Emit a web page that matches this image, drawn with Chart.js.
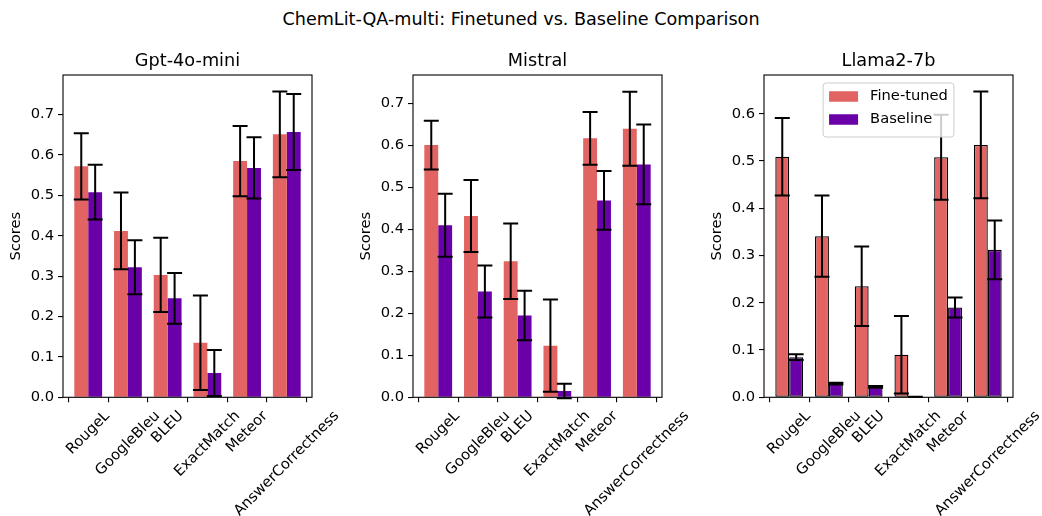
<!DOCTYPE html>
<html>
<head>
<meta charset="utf-8">
<script src="https://cdn.jsdelivr.net/npm/chart.js@4.4.0/dist/chart.umd.min.js"></script>
<style>
  body { margin: 0; background: #fff; }
  #wrap { position: relative; width: 1042px; height: 516px; overflow: hidden; }
  #suptitle { position: absolute; top: 9px; left: 0; width: 1042px; text-align: center;
    font: 17.6px "DejaVu Sans", sans-serif; line-height: 20px; color: #000; }
  canvas { position: absolute; top: 0; }
</style>
</head>
<body>
<div id="wrap">
  <div id="suptitle">ChemLit-QA-multi: Finetuned vs. Baseline Comparison</div>
  <canvas id="c1" width="340" height="516" style="left:0px"></canvas>
  <canvas id="c2" width="340" height="516" style="left:350px"></canvas>
  <canvas id="c3" width="340" height="516" style="left:701px"></canvas>
</div>
<script>
// metrics on the x axis
const categories = ['RougeL', 'GoogleBleu', 'BLEU', 'ExactMatch', 'Meteor', 'AnswerCorrectness'];
const seriesNames = ['Fine-tuned', 'Baseline'];

// Gpt-4o-mini
const gptFinetuned = [0.572, 0.412, 0.303, 0.135, 0.585, 0.651];
const gptFinetunedErr = [0.082, 0.095, 0.092, 0.117, 0.087, 0.106];
const gptBaseline = [0.508, 0.322, 0.245, 0.060, 0.568, 0.657];
const gptBaselineErr = [0.068, 0.067, 0.063, 0.057, 0.076, 0.094];

// Mistral
const mistralFinetuned = [0.601, 0.432, 0.324, 0.123, 0.617, 0.640];
const mistralFinetunedErr = [0.058, 0.086, 0.090, 0.110, 0.063, 0.088];
const mistralBaseline = [0.410, 0.252, 0.195, 0.015, 0.469, 0.555];
const mistralBaselineErr = [0.075, 0.062, 0.059, 0.017, 0.070, 0.095];

// Llama2-7b
const llamaFinetuned = [0.509, 0.341, 0.235, 0.090, 0.508, 0.534];
const llamaFinetunedErr = [0.082, 0.086, 0.084, 0.082, 0.090, 0.113];
const llamaBaseline = [0.085, 0.029, 0.022, 0.001, 0.190, 0.312];
const llamaBaselineErr = [0.006, 0.002, 0.002, 0.000, 0.021, 0.062];

// y tick labels per panel
const gptTicks = [0, 0.1, 0.2, 0.3, 0.4, 0.5, 0.6, 0.7];
const mistralTicks = [0, 0.1, 0.2, 0.3, 0.4, 0.5, 0.6, 0.7];
const llamaTicks = [0, 0.1, 0.2, 0.3, 0.4, 0.5, 0.6];

const FT_COLOR = '#E16462';
const BL_COLOR = '#6A00A8';
const FONT = '"DejaVu Sans", sans-serif';
const FS = 14.7;
const TITLE_FS = 17.7;

// error bars + spines + title + rotated x labels + optional legend
const extras = {
  id: 'extras',
  afterDatasetsDraw(chart) {
    const { ctx, chartArea: a } = chart;
    const ys = chart.scales.y;
    ctx.save();
    ctx.strokeStyle = '#000';
    ctx.lineWidth = 2;
    chart.data.datasets.forEach((ds, di) => {
      const meta = chart.getDatasetMeta(di);
      meta.data.forEach((bar, i) => {
        const v = ds.data[i].y, e = ds.errors[i];
        const yTop = ys.getPixelForValue(v + e);
        const yBot = ys.getPixelForValue(v - e);
        ctx.beginPath();
        ctx.moveTo(bar.x, yTop); ctx.lineTo(bar.x, yBot);
        ctx.moveTo(bar.x - 7.5, yTop); ctx.lineTo(bar.x + 7.5, yTop);
        ctx.moveTo(bar.x - 7.5, yBot); ctx.lineTo(bar.x + 7.5, yBot);
        ctx.stroke();
      });
    });
    // spines
    ctx.lineWidth = 1.1;
    ctx.strokeRect(a.left, a.top, a.right - a.left, a.bottom - a.top);
    ctx.restore();
  },
  afterDraw(chart) {
    const { ctx, chartArea: a } = chart;
    const xs = chart.scales.x;
    const opts = chart.options.plugins.extras;
    ctx.save();
    ctx.fillStyle = '#000';
    // panel title
    ctx.font = TITLE_FS + 'px ' + FONT;
    ctx.textAlign = 'center';
    ctx.textBaseline = 'alphabetic';
    ctx.fillText(opts.title, (a.left + a.right) / 2, a.top - 8.8);
    // rotated category labels
    ctx.font = FS + 'px ' + FONT;
    ctx.textBaseline = 'middle';
    const H = FS * 1.17;
    categories.forEach((lab, i) => {
      const x = xs.getPixelForValue(i);
      const L = ctx.measureText(lab).width;
      const bh = (L + H) * Math.SQRT1_2;
      ctx.save();
      ctx.translate(x, a.bottom + 10.3 + bh / 2);
      ctx.rotate(-Math.PI / 4);
      ctx.fillText(lab, 0, 0);
      ctx.restore();
    });
    if (opts.legend) {
      const maxW = Math.max(...chart.data.datasets.map(d => ctx.measureText(d.label).width));
      const w = 6 + 29 + 12 + maxW + 6;
      const left = (a.left + a.right) / 2 - w / 2;
      const top = a.top + 8;
      const h = 54;
      ctx.beginPath();
      ctx.roundRect(left, top, w, h, 3);
      ctx.fillStyle = 'rgba(255,255,255,0.8)';
      ctx.fill();
      ctx.strokeStyle = '#cccccc';
      ctx.lineWidth = 1;
      ctx.stroke();
      chart.data.datasets.forEach((d, k) => {
        const cy = top + 13.5 + k * 23;
        ctx.fillStyle = d.backgroundColor;
        ctx.fillRect(left + 6, cy - 5.25, 29, 10.5);
        ctx.fillStyle = '#000';
        ctx.textAlign = 'left';
        ctx.fillText(d.label, left + 6 + 29 + 12, cy);
      });
    }
    ctx.restore();
  }
};

function makePanel(id, title, ft, ftErr, bl, blErr, yMax, yTicks, edged, legend) {
  const toPts = arr => arr.map((v, i) => ({ x: i, y: v }));
  const barStyle = edged ? { borderColor: '#000', borderWidth: 1.3, borderSkipped: false } : { borderWidth: 0 };
  new Chart(document.getElementById(id), {
    type: 'bar',
    data: {
      datasets: [
        Object.assign({ label: seriesNames[0], data: toPts(ft), errors: ftErr, backgroundColor: FT_COLOR }, barStyle),
        Object.assign({ label: seriesNames[1], data: toPts(bl), errors: blErr, backgroundColor: BL_COLOR }, barStyle)
      ]
    },
    options: {
      responsive: false,
      animation: false,
      devicePixelRatio: 1,
      categoryPercentage: 0.7,
      barPercentage: 1.0,
      layout: { padding: { left: 0, right: 28, top: 75, bottom: 0 } },
      plugins: {
        legend: { display: false },
        tooltip: { enabled: false },
        title: { display: false },
        extras: { legend, title }
      },
      scales: {
        x: {
          type: 'linear', min: -0.635, max: 5.635, offset: false,
          afterBuildTicks: ax => { ax.ticks = categories.map((_, i) => ({ value: i })); },
          afterFit: ax => { ax.height = 118.7; },
          ticks: { display: false },
          grid: { display: true, drawOnChartArea: false, drawTicks: true, tickLength: 5, color: '#000', lineWidth: 1.1 },
          border: { display: false }
        },
        y: {
          min: 0, max: yMax,
          afterBuildTicks: ax => { ax.ticks = yTicks.map(v => ({ value: v })); },
          afterFit: ax => { ax.width = 63; },
          ticks: {
            color: '#000', padding: 4,
            font: { family: FONT, size: FS },
            callback: v => v.toFixed(1)
          },
          grid: { display: true, drawOnChartArea: false, drawTicks: true, tickLength: 5, color: '#000', lineWidth: 1.1 },
          border: { display: false },
          title: {
            display: true, text: 'Scores', color: '#000',
            font: { family: FONT, size: FS },
            padding: { top: 7.5, bottom: 0 }
          }
        }
      }
    },
    plugins: [extras]
  });
}

makePanel('c1', 'Gpt-4o-mini', gptFinetuned, gptFinetunedErr, gptBaseline, gptBaselineErr, 0.798, gptTicks, false, false);
makePanel('c2', 'Mistral', mistralFinetuned, mistralFinetunedErr, mistralBaseline, mistralBaselineErr, 0.768, mistralTicks, false, false);
makePanel('c3', 'Llama2-7b', llamaFinetuned, llamaFinetunedErr, llamaBaseline, llamaBaselineErr, 0.682, llamaTicks, true, true);
</script>
</body>
</html>
